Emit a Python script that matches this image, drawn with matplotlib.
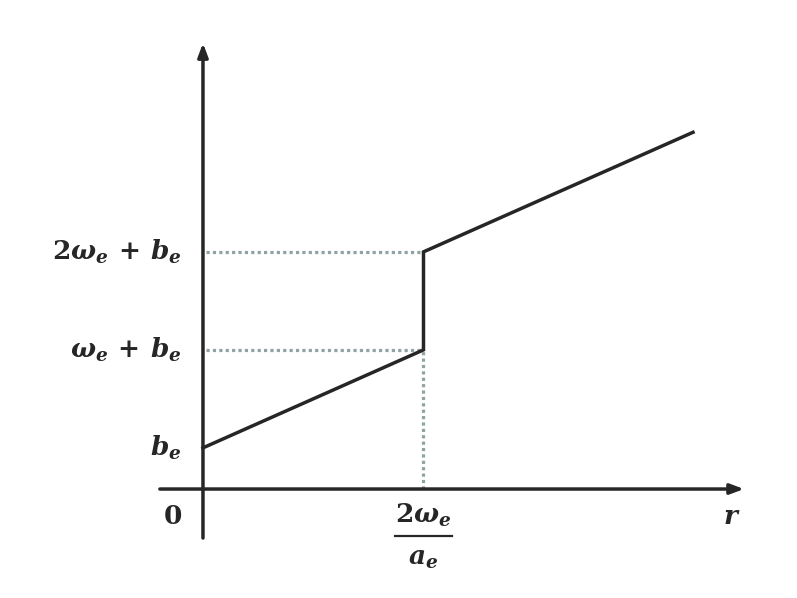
import matplotlib
matplotlib.use("Agg")
import matplotlib.pyplot as plt

# piecewise function, in units of omega_e (b_e = 0.42, 2*omega_e/a_e = 2.25)
r_vals = [0.0, 2.25, 2.25, 5.0]
y_vals = [0.42, 1.42, 2.42, 3.64]

ytick_vals = [0.42, 1.42, 2.42]
ytick_labels = [r"$b_e$", r"$\omega_e\,+\,b_e$", r"$2\omega_e\,+\,b_e$"]
r_jump = 2.25

plt.rcParams["mathtext.fontset"] = "custom"
plt.rcParams["mathtext.it"] = "DejaVu Serif:italic:bold"
plt.rcParams["mathtext.rm"] = "DejaVu Serif:bold"
plt.rcParams["mathtext.bf"] = "DejaVu Serif:bold"

ink = "#262626"
dots = "#8fa3a3"
size = 19

fig = plt.figure(figsize=(7.97, 5.98), dpi=100)
ax = fig.add_axes([0, 0, 1, 1])
ax.set_xlim(-2.071, 6.061)
ax.set_ylim(-1.112, 4.99)
ax.axis("off")

# axes with arrows
arrow = dict(arrowstyle="-|>,head_length=0.8,head_width=0.3",
             color=ink, lw=2.5, shrinkA=0, shrinkB=0)
ax.annotate("", xy=(5.52, 0), xytext=(-0.44, 0), arrowprops=arrow)
ax.annotate("", xy=(0, 4.55), xytext=(0, -0.5), arrowprops=arrow)

# dotted guides
guide = dict(color=dots, lw=2.3, linestyle=(0, (1, 1)), dash_capstyle="butt")
for yv in ytick_vals[1:]:
    ax.plot([0.03, r_jump], [yv, yv], **guide)
ax.plot([r_jump, r_jump], [0, ytick_vals[1]], **guide)

# the function
ax.plot(r_vals, y_vals, color=ink, lw=2.5, solid_joinstyle="miter")

# labels
for yv, lab in zip(ytick_vals, ytick_labels):
    ax.text(-0.22, yv, lab, ha="right", va="center", fontsize=size, color=ink)

ax.text(-0.31, -0.29, r"$\mathbf{0}$", ha="center", va="center", fontsize=size, color=ink)

# fraction 2w/a below the jump
ax.text(r_jump, -0.27, r"$2\omega_e$", ha="center", va="center", fontsize=size, color=ink)
ax.plot([r_jump - 0.29, r_jump + 0.29], [-0.48, -0.48], color=ink, lw=1.6)
ax.text(r_jump, -0.70, r"$a_e$", ha="center", va="center", fontsize=size, color=ink)

ax.text(5.4, -0.29, r"$r$", ha="center", va="center", fontsize=size, color=ink)

fig.savefig("out.png", dpi=100)
